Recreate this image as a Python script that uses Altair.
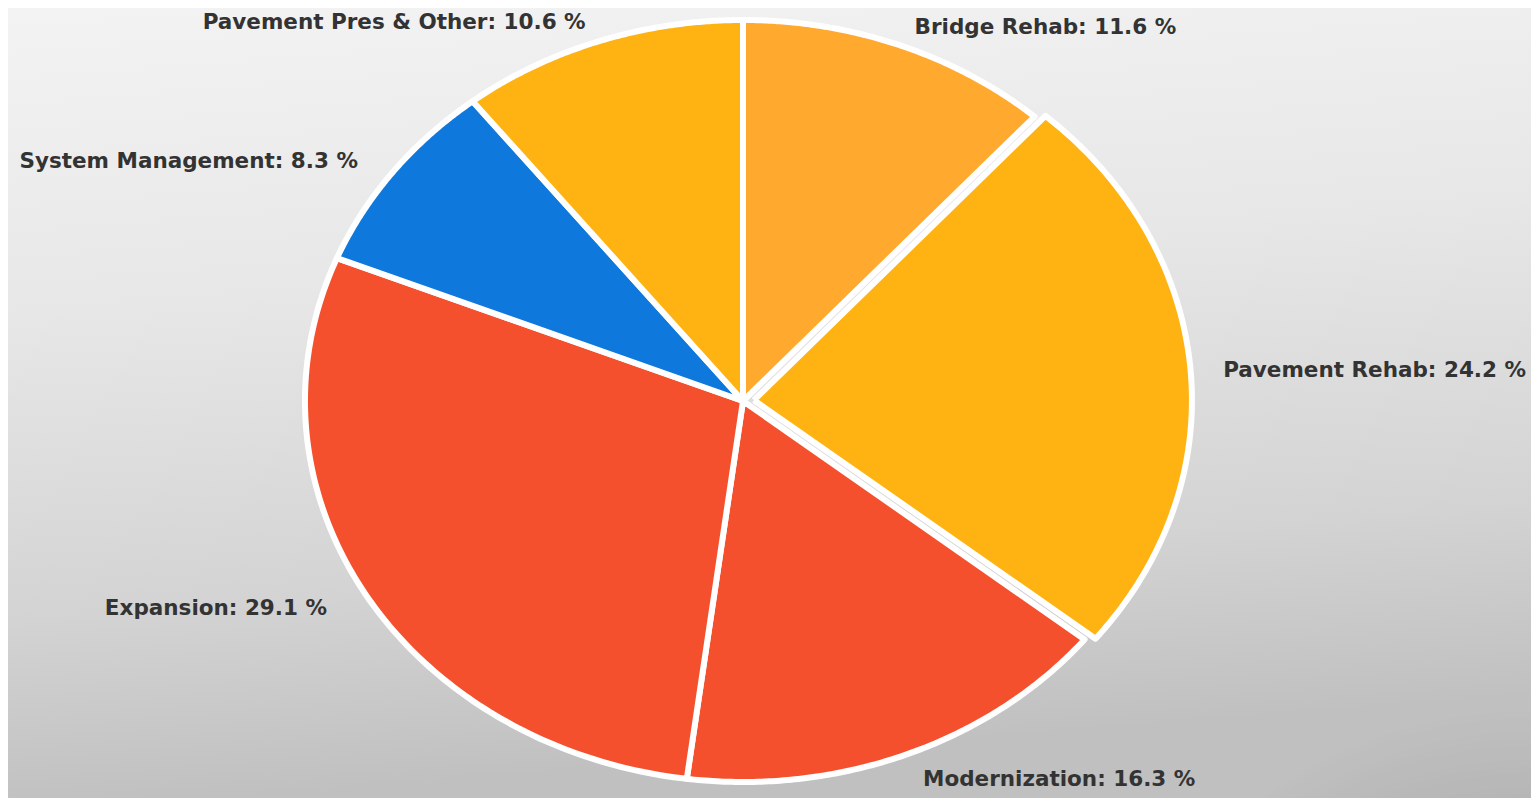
import altair as alt
import pandas as pd

categories = ["Bridge Rehab", "Pavement Rehab", "Modernization", "Expansion",
              "System Management", "Pavement Pres & Other"]
shares = [11.6, 24.2, 16.3, 29.1, 8.3, 10.6]
colors = ["#FFAA2E", "#FFB312", "#F5502E", "#F5502E", "#0F78DC", "#FFB312"]
exploded = "Pavement Rehab"

df = pd.DataFrame({"category": categories, "share": shares,
                   "idx": list(range(len(categories)))})

W, H = 1523, 790
x_dom = [-1.678, 1.799]
y_dom = [-1.042, 1.0315]
N = 120

xs = alt.Scale(domain=x_dom, nice=False, zero=False)
ys = alt.Scale(domain=y_dom, nice=False, zero=False)

base = alt.Chart(df).transform_window(
    cum="sum(share)", sort=[alt.SortField("idx")], frame=[None, 0]
).transform_joinaggregate(total="sum(share)").transform_calculate(
    a0="2*PI*(datum.cum - datum.share)/datum.total",
    a1="2*PI*datum.cum/datum.total",
).transform_calculate(
    mid="(datum.a0 + datum.a1)/2",
    off=f"datum.category == '{exploded}' ? 0.025 : 0",
)

slices = base.transform_calculate(
    ts=f"sequence(0, {N + 3})"
).transform_flatten(["ts"]).transform_calculate(
    edge=f"datum.ts == 0 || datum.ts == {N + 2}",
    ang=f"datum.a0 + (datum.a1 - datum.a0) * (datum.ts - 1) / {N}",
).transform_calculate(
    px="datum.off*sin(datum.mid) + (datum.edge ? 0 : sin(datum.ang))",
    py="datum.off*cos(datum.mid) + (datum.edge ? 0 : cos(datum.ang))",
).mark_line(filled=True, stroke="white", strokeWidth=6, strokeJoin="round").encode(
    x=alt.X("px:Q", scale=xs, axis=None),
    y=alt.Y("py:Q", scale=ys, axis=None),
    color=alt.Color("category:N", scale=alt.Scale(domain=categories, range=colors),
                    legend=None),
    detail="category:N",
    order="ts:Q",
)

labels = base.transform_calculate(
    lx="1.10*sin(datum.mid)",
    ly="1.06*cos(datum.mid)",
    label="datum.category + ': ' + format(datum.share, '.1f') + ' %'",
)
text_style = dict(font="DejaVu Sans", fontSize=21.5, fontWeight="bold",
                  color="#333333", baseline="middle", dy=4)
right_labels = labels.transform_filter("sin(datum.mid) >= 0").mark_text(
    align="left", **text_style
).encode(x=alt.X("lx:Q", scale=xs, axis=None),
         y=alt.Y("ly:Q", scale=ys, axis=None), text="label:N")
left_labels = labels.transform_filter("sin(datum.mid) < 0").mark_text(
    align="right", **text_style
).encode(x=alt.X("lx:Q", scale=xs, axis=None),
         y=alt.Y("ly:Q", scale=ys, axis=None), text="label:N")

bg_grad = alt.LinearGradient(
    gradient="linear", x1=0, y1=0, x2=0.15, y2=1,
    stops=[
        alt.GradientStop(offset=0, color="#f3f3f3"),
        alt.GradientStop(offset=0.38, color="#e7e7e7"),
        alt.GradientStop(offset=0.76, color="#d3d3d3"),
        alt.GradientStop(offset=1, color="#c0c0c0"),
    ],
)
corner_grad = alt.RadialGradient(
    gradient="radial", x1=1, y1=1, r1=0, x2=1, y2=1, r2=0.3,
    stops=[
        alt.GradientStop(offset=0, color="rgba(0,0,0,0.36)"),
        alt.GradientStop(offset=0.5, color="rgba(0,0,0,0.13)"),
        alt.GradientStop(offset=1, color="rgba(0,0,0,0)"),
    ],
)
bg_data = pd.DataFrame({"a": [0]})
bg = alt.Chart(bg_data).mark_rect(fill=bg_grad, strokeWidth=0).encode(
    x=alt.value(0), x2=alt.value(W), y=alt.value(0), y2=alt.value(H)
)
corner = alt.Chart(bg_data).mark_rect(fill=corner_grad, strokeWidth=0).encode(
    x=alt.value(0), x2=alt.value(W), y=alt.value(0), y2=alt.value(H)
)

chart = alt.layer(bg, corner, slices, right_labels, left_labels).properties(
    width=W, height=H, padding=0,
    autosize=alt.AutoSizeParams(type="none"),
).configure_view(strokeWidth=0)

chart.save("out.html", embed_options={"renderer": "svg", "actions": False})
